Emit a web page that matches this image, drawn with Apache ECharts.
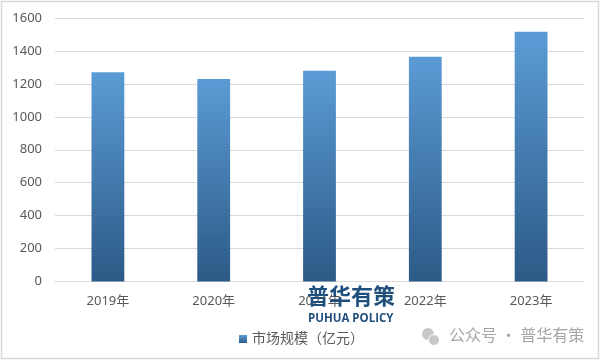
<!DOCTYPE html>
<html>
<head>
<meta charset="utf-8">
<script src="https://cdn.jsdelivr.net/npm/echarts@6/dist/echarts.min.js"></script>
<style>
html,body{margin:0;padding:0;background:#fff;}
#c{width:601px;height:361px;}
</style>
</head>
<body>
<div id="c"></div>
<script>
var categories = ['2019年', '2020年', '2021年', '2022年', '2023年'];
var marketSize = [1270, 1230, 1280, 1365, 1517];
var seriesName = '市场规模（亿元）';
var yTicks = [0, 200, 400, 600, 800, 1000, 1200, 1400, 1600];

var chart = echarts.init(document.getElementById('c'), null, {renderer: 'canvas'});
var font = "'Noto Sans', 'Noto Sans CJK SC', sans-serif";
chart.setOption({
  backgroundColor: '#ffffff',
  animation: false,
  grid: {left: 55, right: 17, top: 18, bottom: 79.5, containLabel: false},
  legend: {
    data: [seriesName],
    left: 234, top: 327,
    itemWidth: 8, itemHeight: 8, itemGap: 10,
    icon: 'rect',
    textStyle: {fontSize: 14, color: '#595959', fontFamily: font}
  },
  xAxis: {
    type: 'category',
    data: categories,
    axisLine: {show: true, lineStyle: {color: '#d9d9d9', width: 1}},
    axisTick: {show: false},
    axisLabel: {fontSize: 13, color: '#595959', margin: 13, fontFamily: font}
  },
  yAxis: {
    type: 'value',
    min: yTicks[0], max: yTicks[yTicks.length - 1], interval: 200,
    axisLine: {show: false},
    axisTick: {show: false},
    axisLabel: {fontSize: 13, color: '#595959', margin: 13, fontFamily: font,
      formatter: function (v) { return String(v); }},
    splitLine: {lineStyle: {color: '#d9d9d9', width: 1}}
  },
  series: [{
    name: seriesName,
    type: 'bar',
    data: marketSize,
    barWidth: '31%',
    itemStyle: {
      color: new echarts.graphic.LinearGradient(0, 0, 0, 1, [
        {offset: 0, color: '#5b9bd5'},
        {offset: 1, color: '#2c5a86'}
      ])
    }
  }],
  graphic: [
    {type: 'rect', shape: {x: 1.5, y: 1.5, width: 597, height: 357}, style: {fill: 'none', stroke: '#d9d9d9', lineWidth: 1.5}, silent: true},
    {type: 'text', left: 307, top: 285, style: {text: '普华有策', fontSize: 22, fontWeight: 'bold', fill: '#1f4f7d', fontFamily: "'Noto Sans CJK SC', sans-serif"}, z: 100},
    {type: 'text', left: 308, top: 313, style: {text: 'PUHUA POLICY', fontSize: 11.5, fontWeight: 'bold', fill: '#1f4f7d', fontFamily: "'Open Sans', 'Noto Sans', sans-serif"}, z: 100},
    {type: 'circle', shape: {cx: 428, cy: 334, r: 6}, style: {fill: '#c8c8c8'}, z: 100},
    {type: 'circle', shape: {cx: 434, cy: 340, r: 5.5}, style: {fill: '#c8c8c8', stroke: '#ffffff', lineWidth: 1}, z: 101},
    {type: 'text', left: 449, top: 327, style: {text: '公众号 · 普华有策', fontSize: 16, fill: '#a6a6a6', fontFamily: "'Noto Sans CJK SC', sans-serif"}, z: 100}
  ]
});
</script>
</body>
</html>
